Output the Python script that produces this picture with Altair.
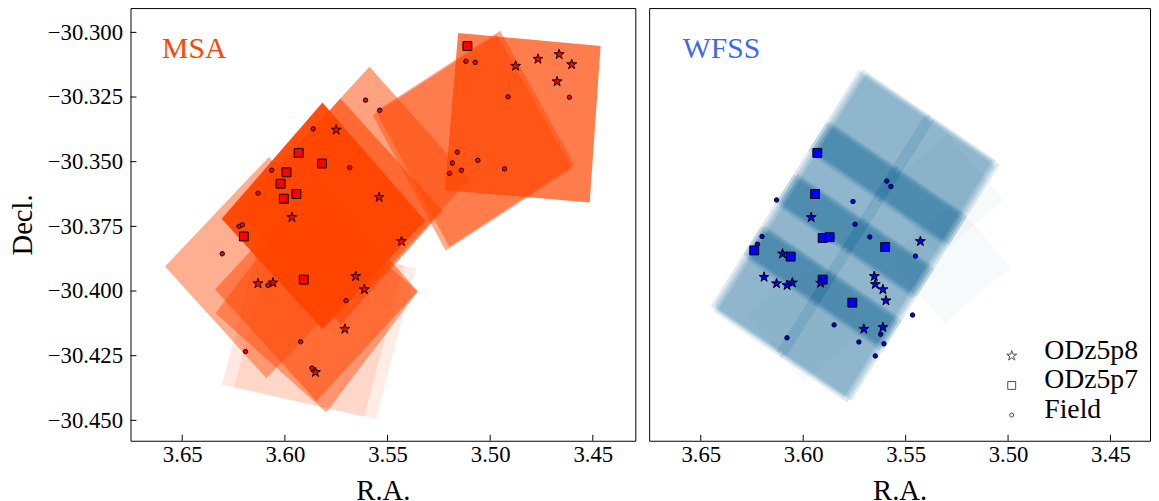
import altair as alt
import pandas as pd

FONT = "Liberation Serif"

# ---------------- MSA footprints: four corners each (RA, Dec in deg) and opacity
msa_ra = [
    [3.5156, 3.4462, 3.4515, 3.5221],
    [3.4951, 3.4590, 3.5199, 3.5557],
    [3.4967, 3.4603, 3.5217, 3.5573],
    [3.5588, 3.5099, 3.5599, 3.6088],
    [3.5729, 3.5232, 3.5727, 3.6223],
    [3.5817, 3.5317, 3.5817, 3.6308],
    [3.6584, 3.6078, 3.5584, 3.6090],
    [3.6340, 3.5846, 3.5353, 3.5846],
    [3.6338, 3.5894, 3.5353, 3.5798],
    [3.6306, 3.5613, 3.5421, 3.6114],
    [3.6247, 3.5556, 3.5363, 3.6056],
]
msa_dec = [
    [-30.3002, -30.3053, -30.3658, -30.3610],
    [-30.2994, -30.3512, -30.3829, -30.3305],
    [-30.3009, -30.3527, -30.3843, -30.3319],
    [-30.3133, -30.3568, -30.3998, -30.3564],
    [-30.3256, -30.3691, -30.4129, -30.3698],
    [-30.3271, -30.3728, -30.4147, -30.3721],
    [-30.3905, -30.3482, -30.3914, -30.4337],
    [-30.3994, -30.3569, -30.4000, -30.4426],
    [-30.4086, -30.3620, -30.4003, -30.4469],
    [-30.4362, -30.4486, -30.3901, -30.3778],
    [-30.4372, -30.4495, -30.3911, -30.3788],
]
msa_alpha = [0.70, 0.45, 0.45, 0.50, 0.60, 0.95, 0.43, 0.50, 0.45, 0.12, 0.10]

# ---------------- WFSS mosaic: frame corners (left, top, bottom), tiles and dithers
wfss_frame_ra = [3.6452, 3.5728, 3.5767]
wfss_frame_dec = [-30.4060, -30.3146, -30.4430]
wfss_row_lo = [0.00, 0.22, 0.44, 0.66]
wfss_row_hi = [0.34, 0.56, 0.78, 1.00]
wfss_col_lo = [0.00, 0.47]
wfss_col_hi = [0.485, 0.95]
wfss_dither_t = [0.000, 0.010, -0.008, 0.004]
wfss_dither_s = [0.000, 0.016, 0.032, 0.048]
wfss_alpha = 0.135

faint_ra = [
    [3.4989, 3.5310, 3.5585, 3.5263],
    [3.5021, 3.5344, 3.5619, 3.5296],
    [3.6001, 3.5678, 3.5953, 3.6276],
]
faint_dec = [
    [-30.3908, -30.4125, -30.3870, -30.3653],
    [-30.3648, -30.3866, -30.3611, -30.3394],
    [-30.4354, -30.4136, -30.3881, -30.4098],
]
faint_alpha = [0.06, 0.06, 0.05]

# ---------------- sources, MSA panel
msa_p8_ra = [3.5750, 3.5541, 3.5966, 3.5432, 3.6131, 3.6058, 3.5655, 3.5613, 3.5708, 3.5851,
             3.4876, 3.4767, 3.4664, 3.4603, 3.4674]
msa_p8_dec = [-30.3377, -30.3637, -30.3715, -30.3808, -30.3971, -30.3968, -30.3943, -30.3994,
              -30.4147, -30.4314, -30.3130, -30.3103, -30.3085, -30.3124, -30.3190]
msa_p7_ra = [3.5111, 3.5933, 3.5819, 3.5992, 3.6021, 3.5944, 3.6005, 3.6200, 3.5908]
msa_p7_dec = [-30.3053, -30.3466, -30.3507, -30.3541, -30.3585, -30.3625, -30.3643, -30.3789, -30.3956]
msa_field_ra = [3.5607, 3.5538, 3.5862, 3.6064, 3.5684, 3.6131, 3.6223, 3.6207, 3.6305, 3.6082,
                3.5702, 3.5923, 3.6192, 3.5868, 3.5118, 3.5073, 3.4913, 3.4614, 3.5160, 3.5184,
                3.5060, 3.5198, 3.5140, 3.4930]
msa_field_dec = [-30.3262, -30.3301, -30.3373, -30.3533, -30.3523, -30.3622, -30.3750, -30.3744,
                 -30.3856, -30.3978, -30.4037, -30.4196, -30.4234, -30.4298, -30.3112, -30.3116,
                 -30.3249, -30.3251, -30.3463, -30.3505, -30.3495, -30.3545, -30.3533, -30.3528]

# ---------------- sources, WFSS panel
wfss_p8_ra = [3.5961, 3.5428, 3.6101, 3.6191, 3.6130, 3.6079, 3.6053, 3.5915, 3.5653, 3.5648,
              3.5611, 3.5596, 3.5704, 3.5611]
wfss_p8_dec = [-30.3715, -30.3808, -30.3856, -30.3946, -30.3971, -30.3978, -30.3968, -30.3969,
               -30.3943, -30.3974, -30.3994, -30.4037, -30.4147, -30.4140]
wfss_p7_ra = [3.5931, 3.5942, 3.5905, 3.5871, 3.5600, 3.6239, 3.6061, 3.5905, 3.5760]
wfss_p7_dec = [-30.3466, -30.3625, -30.3795, -30.3792, -30.3830, -30.3843, -30.3867, -30.3956, -30.4045]
wfss_field_ra = [3.5592, 3.5572, 3.6130, 3.5757, 3.5747, 3.6201, 3.6223, 3.5675, 3.5452, 3.5466,
                 3.5849, 3.6079, 3.5622, 3.5728, 3.5606, 3.5648]
wfss_field_dec = [-30.3575, -30.3596, -30.3648, -30.3654, -30.3742, -30.3789, -30.3819, -30.3791,
                  -30.3865, -30.4093, -30.4131, -30.4181, -30.4167, -30.4197, -30.4204, -30.4251]

x_ticks = [3.65, 3.60, 3.55, 3.50, 3.45]
y_ticks = [-30.300, -30.325, -30.350, -30.375, -30.400, -30.425, -30.450]
panel_labels = ["MSA", "WFSS"]
legend_labels = ["ODz5p8", "ODz5p7", "Field"]

STAR = ("M0,-1L0.2245,-0.309L0.9511,-0.309L0.3633,0.118L0.5878,0.809L0,0.382"
        "L-0.5878,0.809L-0.3633,0.118L-0.9511,-0.309L-0.2245,-0.309Z")

H = 438
W_L, W_R = 511, 507
yscale = alt.Scale(domain=[-30.4579, -30.2906], nice=False, zero=False)
xscale_l = alt.Scale(domain=[3.4293, 3.6752], reverse=True, nice=False, zero=False)
xscale_r = alt.Scale(domain=[3.4307, 3.6752], reverse=True, nice=False, zero=False)

X_AXIS = alt.Axis(values=x_ticks, format=".2f", title="R.A.")
Y_AXIS = alt.Axis(values=y_ticks, format=".3f", title="Decl.")


def poly_frame(ras, decs, alphas, prefix):
    rows = []
    for i, (r, d) in enumerate(zip(ras, decs)):
        for k in range(4):
            rows.append({"pid": f"{prefix}{i:03d}", "k": k, "ra": r[k], "dec": d[k], "a": alphas[i]})
    return pd.DataFrame(rows)


msa_df = poly_frame(msa_ra, msa_dec, msa_alpha, "m")

# WFSS tiles from the frame
o_ra, t_ra, b_ra = wfss_frame_ra
o_de, t_de, b_de = wfss_frame_dec
w_ra, w_dec, w_a = [], [], []
for r0, r1 in zip(wfss_row_lo, wfss_row_hi):
    for c0, c1 in zip(wfss_col_lo, wfss_col_hi):
        for dt, ds in zip(wfss_dither_t, wfss_dither_s):
            cr, cd = [], []
            for tt, ss in [(r0, c0), (r1, c0), (r1, c1), (r0, c1)]:
                tt += dt
                ss += ds
                cr.append(o_ra + tt * (t_ra - o_ra) + ss * (b_ra - o_ra))
                cd.append(o_de + tt * (t_de - o_de) + ss * (b_de - o_de))
            w_ra.append(cr)
            w_dec.append(cd)
            w_a.append(wfss_alpha)
wfss_df = poly_frame(w_ra, w_dec, w_a, "w")
faint_df = poly_frame(faint_ra, faint_dec, faint_alpha, "f")


def enc_xy(xscale, xfield, yfield, yaxis):
    return dict(
        x=alt.X(f"{xfield}:Q", scale=xscale, axis=X_AXIS),
        y=alt.Y(f"{yfield}:Q", scale=yscale, axis=yaxis),
    )


def polys(df, color, xscale, yaxis):
    return alt.Chart(df).mark_line(filled=True, color=color, strokeWidth=0, clip=True).encode(
        **enc_xy(xscale, "ra", "dec", yaxis),
        detail="pid:N", order="k:Q", opacity=alt.Opacity("a:Q", scale=None))


def pts(ras, decs, shape, size, fill, xscale, yaxis):
    df = pd.DataFrame({"ra": ras, "dec": decs})
    return alt.Chart(df).mark_point(shape=shape, size=size, filled=True, fill=fill,
                                    stroke="black", strokeWidth=1, opacity=1).encode(
        **enc_xy(xscale, "ra", "dec", yaxis))


def xticks(xscale):
    return alt.Chart(pd.DataFrame({"ra": x_ticks})).mark_rule(color="black", strokeWidth=1).encode(
        x=alt.X("ra:Q", scale=xscale, axis=X_AXIS), y=alt.value(H), y2=alt.value(H - 6))


yticks = alt.Chart(pd.DataFrame({"dec": y_ticks})).mark_rule(color="black", strokeWidth=1).encode(
    y=alt.Y("dec:Q", scale=yscale, axis=Y_AXIS), x=alt.value(0), x2=alt.value(6))


def label(i, color, x):
    return alt.Chart(pd.DataFrame({"t": [panel_labels[i]]})).mark_text(
        font=FONT, fontSize=30, color=color, align="left", baseline="alphabetic").encode(
        text="t:N", x=alt.value(x), y=alt.value(51))


left = alt.layer(
    polys(msa_df, "#ff4500", xscale_l, Y_AXIS),
    pts(msa_field_ra, msa_field_dec, "circle", 20, "#ff0000", xscale_l, Y_AXIS),
    pts(msa_p7_ra, msa_p7_dec, "square", 81, "#ff0000", xscale_l, Y_AXIS),
    pts(msa_p8_ra, msa_p8_dec, STAR, 112, "#ff0000", xscale_l, Y_AXIS),
    xticks(xscale_l), yticks,
    label(0, "#ff4500", 32),
).properties(width=W_L, height=H)

leg_layers = []
leg_shapes = [(STAR, 112), ("square", 64), ("circle", 16)]
leg_y = [352, 382, 412]
for lab, (shp, sz), yy in zip(legend_labels, leg_shapes, leg_y):
    d = pd.DataFrame({"t": [lab]})
    leg_layers.append(alt.Chart(d).mark_point(shape=shp, size=sz, filled=True, fill="white",
                                              stroke="black", strokeWidth=1).encode(
        x=alt.value(367), y=alt.value(yy)))
    leg_layers.append(alt.Chart(d).mark_text(font=FONT, fontSize=28, align="left",
                                             baseline="alphabetic", color="black").encode(
        text="t:N", x=alt.value(400), y=alt.value(yy + 3)))

right = alt.layer(
    polys(faint_df, "#7fa3ad", xscale_r, None),
    polys(wfss_df, "#00588c", xscale_r, None),
    pts(wfss_field_ra, wfss_field_dec, "circle", 20, "#0000ff", xscale_r, None),
    pts(wfss_p7_ra, wfss_p7_dec, "square", 81, "#0000ff", xscale_r, None),
    pts(wfss_p8_ra, wfss_p8_dec, STAR, 112, "#0000ff", xscale_r, None),
    xticks(xscale_r),
    label(1, "#4169e1", 34),
    *leg_layers,
).properties(width=W_R, height=H)

chart = alt.hconcat(left, right, spacing=12).configure(
    background="white", padding={"top": -4, "left": 0, "right": 0, "bottom": 0}
).configure_view(
    stroke="black", strokeWidth=1
).configure_axis(
    labelFont=FONT, titleFont=FONT, labelFontSize=23, titleFontSize=29,
    titleFontWeight="normal", labelColor="black", titleColor="black",
    ticks=False, domain=False, grid=False,
).configure_axisX(
    labelPadding=3, titlePadding=10,
).configure_axisY(
    labelPadding=8, titlePadding=10,
)

chart.save("out.html", embed_options={"renderer": "svg", "actions": False})
